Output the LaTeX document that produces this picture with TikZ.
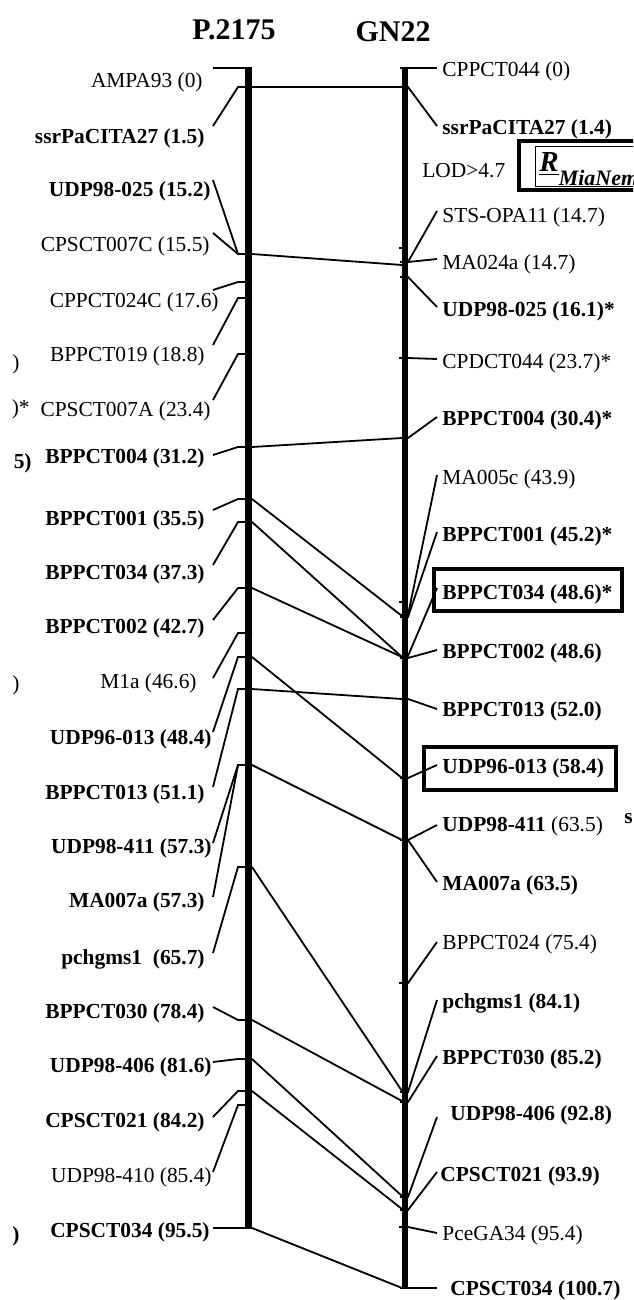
\documentclass[tikz,border=0pt]{standalone}
\usepackage{fontspec}
\setmainfont{Liberation Serif}
\begin{document}
\begin{tikzpicture}[x=0.5pt,y=-0.5pt,
  conn/.style={line width=0.9pt},
  lbar/.style={line width=3.5pt},
  rbar/.style={line width=3.2pt},
  frame/.style={line width=2pt},
  lt/.style={font=\fontsize{10.7}{12}\selectfont, inner sep=0pt, anchor=base east, yshift=-3.6pt},
  ltb/.style={lt, font=\fontsize{10.7}{12}\selectfont\bfseries},
  rt/.style={font=\fontsize{10.7}{12}\selectfont, inner sep=0pt, anchor=base west, yshift=-3.6pt},
  rtb/.style={rt, font=\fontsize{10.7}{12}\selectfont\bfseries},
  title/.style={font=\fontsize{15}{17}\selectfont\bfseries, inner sep=0pt}]
\useasboundingbox (0,0) rectangle (633,1300);

% titles
\node[title] (tP) at (234,30) {P.2175};
\node[title] (tG) at (393,32) {GN22};

% chromosome bars
\coordinate (LT) at (248.5,68);
\coordinate (LB) at (248.5,1228);
\coordinate (RT) at (405,68);
\coordinate (RB) at (405,1288);
\draw[lbar] (LT) -- (LB);
\draw[rbar] (RT) -- (RB);

% left markers: name / label right x / label y / line start y / elbow y / style / text
\foreach \n/\xr/\yc/\ys/\ye/\st/\txt in {
  a/203/80/68/68/lt/AMPA93 (0),
  b/205/136/126/87/ltb/ssrPaCITA27 (1.5),
  c/211/189/180/254/ltb/UDP98-025 (15.2),
  d/210/244/233/254/lt/CPSCT007C (15.5),
  e/219/300/290/282/lt/CPPCT024C (17.6),
  f/205/354/345/298/lt/BPPCT019 (18.8),
  g/211/409/400/354/lt/CPSCT007A (23.4),
  h/205/456/455/447/ltb/BPPCT004 (31.2),
  i/205/518/510/499/ltb/BPPCT001 (35.5),
  j/205/572/565/522/ltb/BPPCT034 (37.3),
  k/205/626/620/588/ltb/BPPCT002 (42.7),
  l/197/681/678/633/lt/M1a (46.6),
  m/212/737/732/657/ltb/UDP96-013 (48.4),
  n/205/792/787/689/ltb/BPPCT013 (51.1),
  o/212/846/843/765/ltb/UDP98-411 (57.3),
  p/205/900/897/765/ltb/MA007a (57.3),
  q/205/957/953/867/ltb/pchgms1\ \ (65.7),
  r/205/1011/1007/1020/ltb/BPPCT030 (78.4),
  s/212/1065/1062/1059/ltb/UDP98-406 (81.6),
  t/205/1120/1117/1091/ltb/CPSCT021 (84.2),
  u/212/1175/1172/1105/lt/UDP98-410 (85.4),
  v/210/1230/1228/1228/ltb/CPSCT034 (95.5)}{
  \node[\st] (L\n) at (\xr,\yc) {\txt};
  \coordinate (Ls\n) at (213,\ys);
  \coordinate (Le\n) at (238,\ye);
  \coordinate (Lb\n) at (252,\ye);
  \draw[conn] (Ls\n) -- (Le\n) -- (Lb\n);
}

% right markers: name / label left x / label y / line end y / bar y / style / text
\foreach \n/\xl/\yc/\ye/\yb/\st/\txt in {
  a/442/69/68/68/rt/CPPCT044 (0),
  b/442/127/126/87/rtb/ssrPaCITA27 (1.4),
  c/442/215/211/262/rt/STS-OPA11 (14.7),
  d/442/262/259/262/rt/MA024a (14.7),
  e/442/309/307/277/rtb/UDP98-025 (16.1)*,
  f/442/361/359/358/rt/CPDCT044 (23.7)*,
  g/442/418/417/438/rtb/BPPCT004 (30.4)*,
  h/442/477/475/615/rt/MA005c (43.9),
  i/442/534/532/617/rtb/BPPCT001 (45.2)*,
  j/442/592/588/656/rtb/BPPCT034 (48.6)*,
  k/442/651/650/658/rtb/BPPCT002 (48.6),
  l/442/709/709/699/rtb/BPPCT013 (52.0),
  m/442/766/765/778/rtb/UDP96-013 (58.4),
  n/442/824/825/840/rt/{\bfseries UDP98-411} (63.5),
  o/442/883/882/840/rtb/MA007a (63.5),
  p/442/942/942/983/rt/BPPCT024 (75.4),
  q/442/1001/1000/1092/rtb/pchgms1 (84.1),
  r/442/1057/1056/1102/rtb/BPPCT030 (85.2),
  s/450/1113/1117/1197/rtb/UDP98-406 (92.8),
  t/440/1174/1172/1210/rtb/CPSCT021 (93.9),
  u/442/1233/1233/1227/rt/PceGA34 (95.4),
  v/450/1288/1288/1288/rtb/CPSCT034 (100.7)}{
  \node[\st] (R\n) at (\xl,\yc) {\txt};
  \coordinate (Re\n) at (437,\ye);
  \coordinate (Rb\n) at (400,\yb);
  \coordinate (Rk\n) at (408,\yb);
  \draw[conn] (Rb\n) -- (Rk\n) -- (Re\n);
}

% small ticks on the right bar
\foreach \k/\y in {1/248,2/358,3/602,4/983,5/1227}{
  \coordinate (Ta\k) at (399,\y);
  \coordinate (Tb\k) at (405,\y);
  \draw[conn] (Ta\k) -- (Tb\k);
}

% connections between the two maps
\foreach \k/\ya/\yb in {1/87/87, 2/254/265, 3/447/438, 4/499/616, 5/522/657,
  6/588/657, 7/657/778, 8/689/699, 9/765/840, 10/867/1091, 11/1020/1101,
  12/1059/1196, 13/1091/1209, 14/1228/1288}{
  \coordinate (Xa\k) at (252,\ya);
  \coordinate (Xb\k) at (402,\yb);
  \draw[conn] (Xa\k) -- (Xb\k);
}

% frames around QTL-linked markers
\draw[frame] (434,569) rectangle (622,611);
\draw[frame] (424,747) rectangle (616,790);

% LOD label and R box (cut at the right edge)
\node[rt, anchor=base west] (lod) at (422,170) {LOD>4.7};
\begin{scope}
  \clip (0,0) rectangle (633,1300);
  \draw[frame] (519,141.5) rectangle (680,190);
  \draw[line width=0.5pt] (535,147) rectangle (680,187);
  \node[inner sep=0pt, anchor=base west] (rq) at (539,172)
    {\fontsize{14.5}{16}\selectfont\bfseries\itshape\underline{R}\raisebox{-7pt}{\fontsize{11}{12}\selectfont\bfseries\itshape\underline{MiaNem}}};
  \node[inner sep=0pt, anchor=base west, font=\fontsize{10.7}{12}\selectfont\bfseries] (sfrag) at (624,823) {s};
\end{scope}

% cut-off fragments of a neighbouring map at the left edge
\node[lt] (f1) at (20,362) {)};
\node[lt] (f2) at (30,407) {)*};
\node[ltb] (f3) at (32,461) {5)};
\node[lt] (f4) at (20,683) {)};
\node[ltb] (f5) at (20,1234) {)};
\end{tikzpicture}
\end{document}
